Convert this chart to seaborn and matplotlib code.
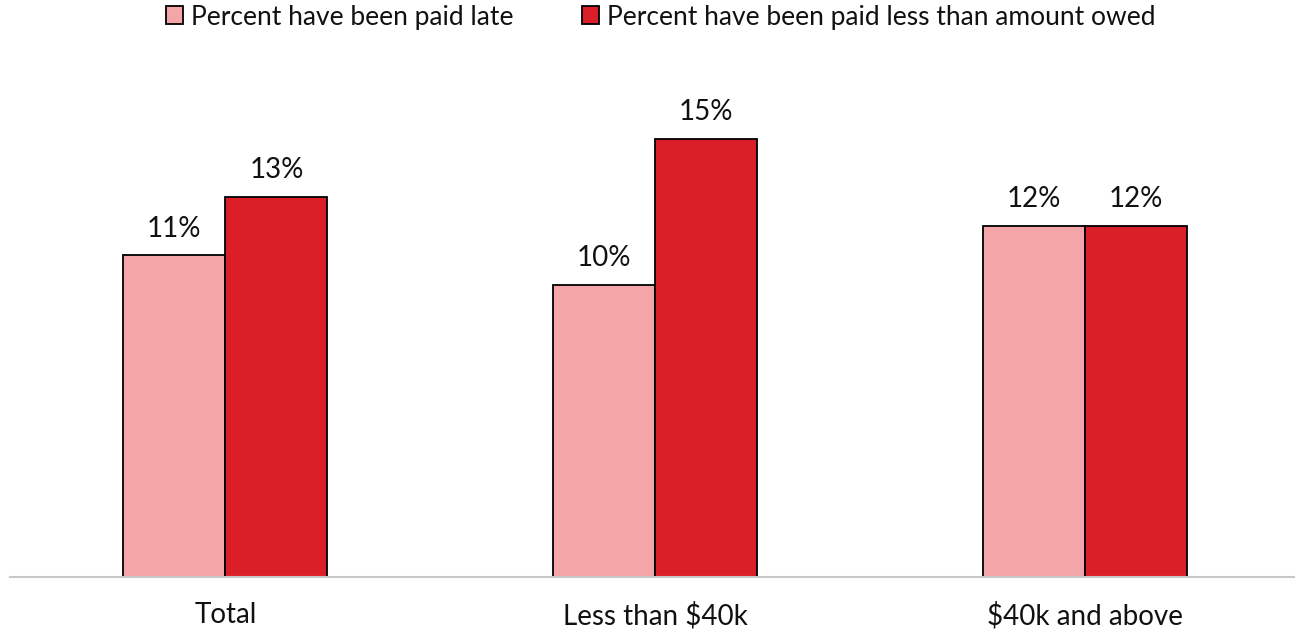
import pandas as pd
import seaborn as sns
import matplotlib.pyplot as plt

# values
groups = ["Total", "Less than $40k", "$40k and above"]
series = ["Percent have been paid late", "Percent have been paid less than amount owed"]
paid_late = [11, 10, 12]
paid_less = [13, 15, 12]

df = pd.DataFrame({
    "group": groups * 2,
    "series": [series[0]] * 3 + [series[1]] * 3,
    "value": paid_late + paid_less,
})

sns.set_theme(style="white")
plt.rcParams['font.family'] = ['Lato', 'DejaVu Sans']

fig = plt.figure(figsize=(12.95, 6.29), dpi=100)
ax = fig.add_axes([0.008, 0.0827, 0.996, 0.79])

sns.barplot(data=df, x="group", y="value", hue="series", order=groups, hue_order=series,
            palette=["#F3A5A8", "#DA1F28"], width=0.475, edgecolor="black", linewidth=1.3,
            saturation=1, errorbar=None, ax=ax)

for cont in ax.containers:
    ax.bar_label(cont, labels=[f"{v:.0f}%" for v in cont.datavalues], padding=10, fontsize=20,
                 color="#111111")

ax.set_xlim(-0.5, 2.5)
ax.set_ylim(0, 17)
ax.set_xlabel("")
ax.set_ylabel("")
ax.set_yticks([])
ax.tick_params(axis="x", labelsize=20, length=0, pad=18, labelcolor="#111111")
for s in ["top", "right", "left"]:
    ax.spines[s].set_visible(False)
ax.spines["bottom"].set_color("#C8C8C8")
ax.spines["bottom"].set_linewidth(1.5)

ax.legend(loc="center", frameon=False, ncol=2, fontsize=19, handlelength=0.65, handleheight=0.65,
          handletextpad=0.3, columnspacing=2.6, labelcolor="#111111")
leg = ax.get_legend()
leg.set_bbox_to_anchor((0.51, 1 - 17 / 629), transform=fig.transFigure)

fig.savefig("out.png", dpi=100)
